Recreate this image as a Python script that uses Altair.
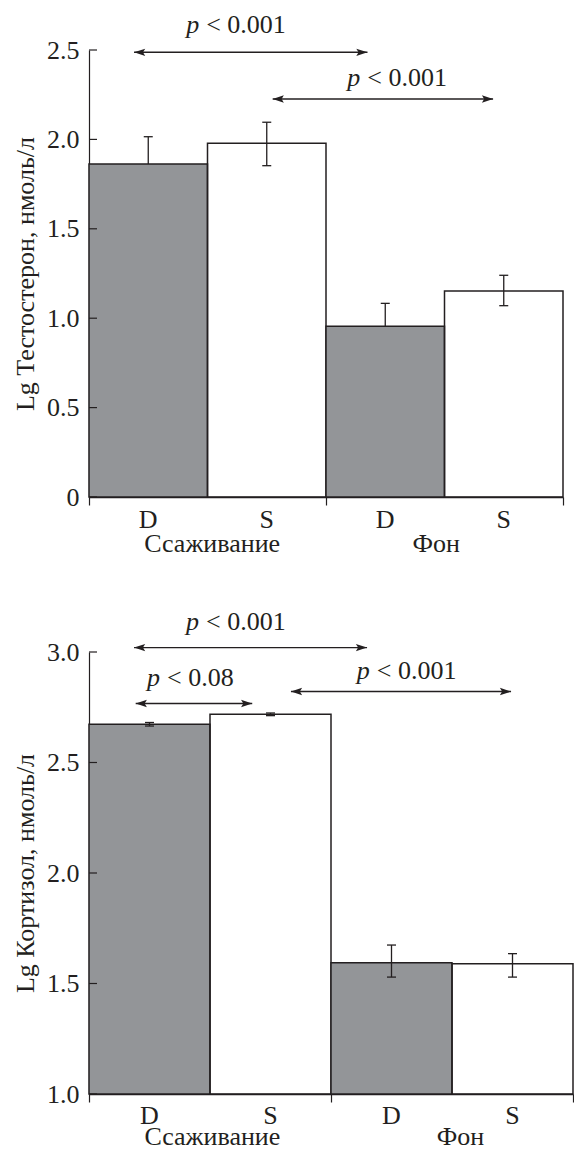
import altair as alt
import pandas as pd

FONT = "Liberation Serif"
INK = "#231f20"
GRAY = "#939598"

# ---------------- data ----------------
types = ["D", "S", "D", "S"]
groups = ["Ссаживание", "Фон"]

# Testosterone (top)
t_mean = [1.862, 1.978, 0.955, 1.152]
t_lo = [1.709, 1.853, 0.827, 1.070]
t_hi = [2.015, 2.096, 1.083, 1.240]
t_ticks = [0, 0.5, 1.0, 1.5, 2.0, 2.5]
t_group_pos = [1.04, 2.93]
t_arrow_x1 = [0.38, 1.55]
t_arrow_x2 = [2.35, 3.41]
t_arrow_y = [2.487, 2.226]
t_text_x = [0.93, 2.29]
t_text_y = [2.595, 2.299]
t_text = ["< 0.001", "< 0.001"]

# Cortisol (bottom)
c_mean = [2.673, 2.718, 1.594, 1.589]
c_lo = [2.665, 2.712, 1.529, 1.529]
c_hi = [2.681, 2.724, 1.674, 1.635]
c_ticks = [1.0, 1.5, 2.0, 2.5, 3.0]
c_group_pos = [1.02, 3.07]
c_arrow_x1 = [0.372, 0.386, 1.669]
c_arrow_x2 = [2.298, 1.349, 3.488]
c_arrow_y = [3.02, 2.767, 2.821]
c_text_x = [0.909, 0.587, 2.32]
c_text_y = [3.0995, 2.844, 2.88]
c_text = ["< 0.001", "< 0.08", "< 0.001"]

ARROW_R = "M 0 0 L -1 -0.33 L -0.8 0 L -1 0.33 Z"
ARROW_L = "M 0 0 L 1 -0.33 L 0.8 0 L 1 0.33 Z"


def panel(mean, lo, hi, ticks, base, dom, gpos, ax1, ax2, ay, tx, ty, txt,
          title, w, h, err_on_top, s_fill, lab_off, grp_off):
    bars = pd.DataFrame({
        "type": types,
        "pos": list(range(len(types))),
        "mean": mean, "lo": lo, "hi": hi,
    })
    bars["pos2"] = bars["pos"] + 1
    bars["mid"] = bars["pos"] + 0.5
    bars["base"] = base
    arrows = pd.DataFrame({"x1": ax1, "x2": ax2, "y": ay})
    texts = pd.DataFrame({"x": tx, "y": ty, "t": txt})
    tickdf = pd.DataFrame({"v": ticks})
    grp = pd.DataFrame({"g": groups, "x": gpos})

    xs = alt.Scale(domain=[0, 4], nice=False, zero=False)
    ys = alt.Scale(domain=dom, nice=False, zero=False)

    xaxis = alt.Axis(values=[0, 2, 4], labels=False, ticks=True, tickSize=8,
                     tickColor=INK, tickWidth=1.2, domainColor=INK,
                     domainWidth=1.4, grid=False, title=None)
    if dom[0] == 0:
        lexpr = "datum.value == 0 ? '0' : format(datum.value, '.1f')"
    else:
        lexpr = "format(datum.value, '.1f')"
    yaxis = alt.Axis(values=ticks, labelExpr=lexpr, ticks=False,
                     domainColor=INK, domainWidth=1.2, grid=False,
                     labelFont=FONT, labelFontSize=26, labelColor=INK,
                     labelPadding=10, title=title, titleFont=FONT,
                     titleFontSize=26, titleFontWeight="normal",
                     titleColor=INK, titlePadding=8)

    base_ch = alt.Chart(bars)
    rect = base_ch.mark_rect(stroke=INK, strokeWidth=1.5).encode(
        x=alt.X("pos:Q", scale=xs, axis=xaxis),
        x2="pos2",
        y=alt.Y("mean:Q", scale=ys, axis=yaxis),
        y2="base",
        fill=alt.Fill("type:N", scale=alt.Scale(domain=["D", "S"],
                                                  range=[GRAY, s_fill]),
                      legend=None),
    )
    err = base_ch.mark_rule(color=INK, strokeWidth=1.3).encode(
        x="mid:Q", y="lo:Q", y2="hi")
    cap_hi = base_ch.mark_tick(orient="horizontal", color=INK, size=9,
                               thickness=1.3, opacity=1).encode(
        x="mid:Q", y="hi:Q")
    cap_lo = base_ch.mark_tick(orient="horizontal", color=INK, size=9,
                               thickness=1.3, opacity=1).encode(
        x="mid:Q", y="lo:Q")
    errs = [err, cap_hi, cap_lo]

    ytick = alt.Chart(tickdf).mark_tick(orient="horizontal", color=INK,
                                        size=8, thickness=1.2,
                                        opacity=1).encode(
        x=alt.value(4), y="v:Q")

    shaft = alt.Chart(arrows).mark_rule(color=INK, strokeWidth=1.4).encode(
        x="x1:Q", x2="x2", y="y:Q")
    head_l = alt.Chart(arrows).mark_point(shape=ARROW_L, filled=True,
                                          size=500, color=INK, opacity=1,
                                          strokeWidth=0).encode(
        x="x1:Q", y="y:Q")
    head_r = alt.Chart(arrows).mark_point(shape=ARROW_R, filled=True,
                                          size=500, color=INK, opacity=1,
                                          strokeWidth=0).encode(
        x="x2:Q", y="y:Q")
    ptxt = alt.Chart(texts).mark_text(text="p", font=FONT, fontSize=26,
                                      fontStyle="italic", align="right",
                                      baseline="alphabetic", color=INK,
                                      dx=0).encode(x="x:Q", y="y:Q")
    rtxt = alt.Chart(texts).mark_text(font=FONT, fontSize=26, align="left",
                                      baseline="alphabetic", color=INK,
                                      dx=7).encode(x="x:Q", y="y:Q",
                                                   text="t:N")

    xlab = base_ch.mark_text(font=FONT, fontSize=26, color=INK,
                             baseline="alphabetic").encode(
        x="mid:Q", y=alt.value(h + lab_off), text="type:N")
    glab = alt.Chart(grp).mark_text(font=FONT, fontSize=26, color=INK,
                                    baseline="alphabetic").encode(
        x="x:Q", y=alt.value(h + grp_off), text="g:N")

    if err_on_top:
        layers = [rect] + errs
    else:
        layers = errs + [rect]
    layers += [ytick, shaft, head_l, head_r, ptxt, rtxt, xlab, glab]
    return alt.layer(*layers).properties(width=w, height=h)


top = panel(t_mean, t_lo, t_hi, t_ticks, 0.0, [0, 2.5], t_group_pos,
            t_arrow_x1, t_arrow_x2, t_arrow_y, t_text_x, t_text_y, t_text,
            "Lg Тестостерон, нмоль/л", 474, 447, False,
            "rgba(255,255,255,0)", 31, 55)
bottom = panel(c_mean, c_lo, c_hi, c_ticks, 1.0, [1.0, 3.0], c_group_pos,
               c_arrow_x1, c_arrow_x2, c_arrow_y, c_text_x, c_text_y, c_text,
               "Lg Кортизол, нмоль/л", 484, 442, True, "white", 30, 51)

chart = alt.vconcat(top, bottom, spacing=52).properties(
    padding={"left": 4, "top": 4, "right": 0, "bottom": 0},
    background="white",
).configure_view(strokeWidth=0)

chart.save("out.html", embed_options={"renderer": "svg", "actions": False})
